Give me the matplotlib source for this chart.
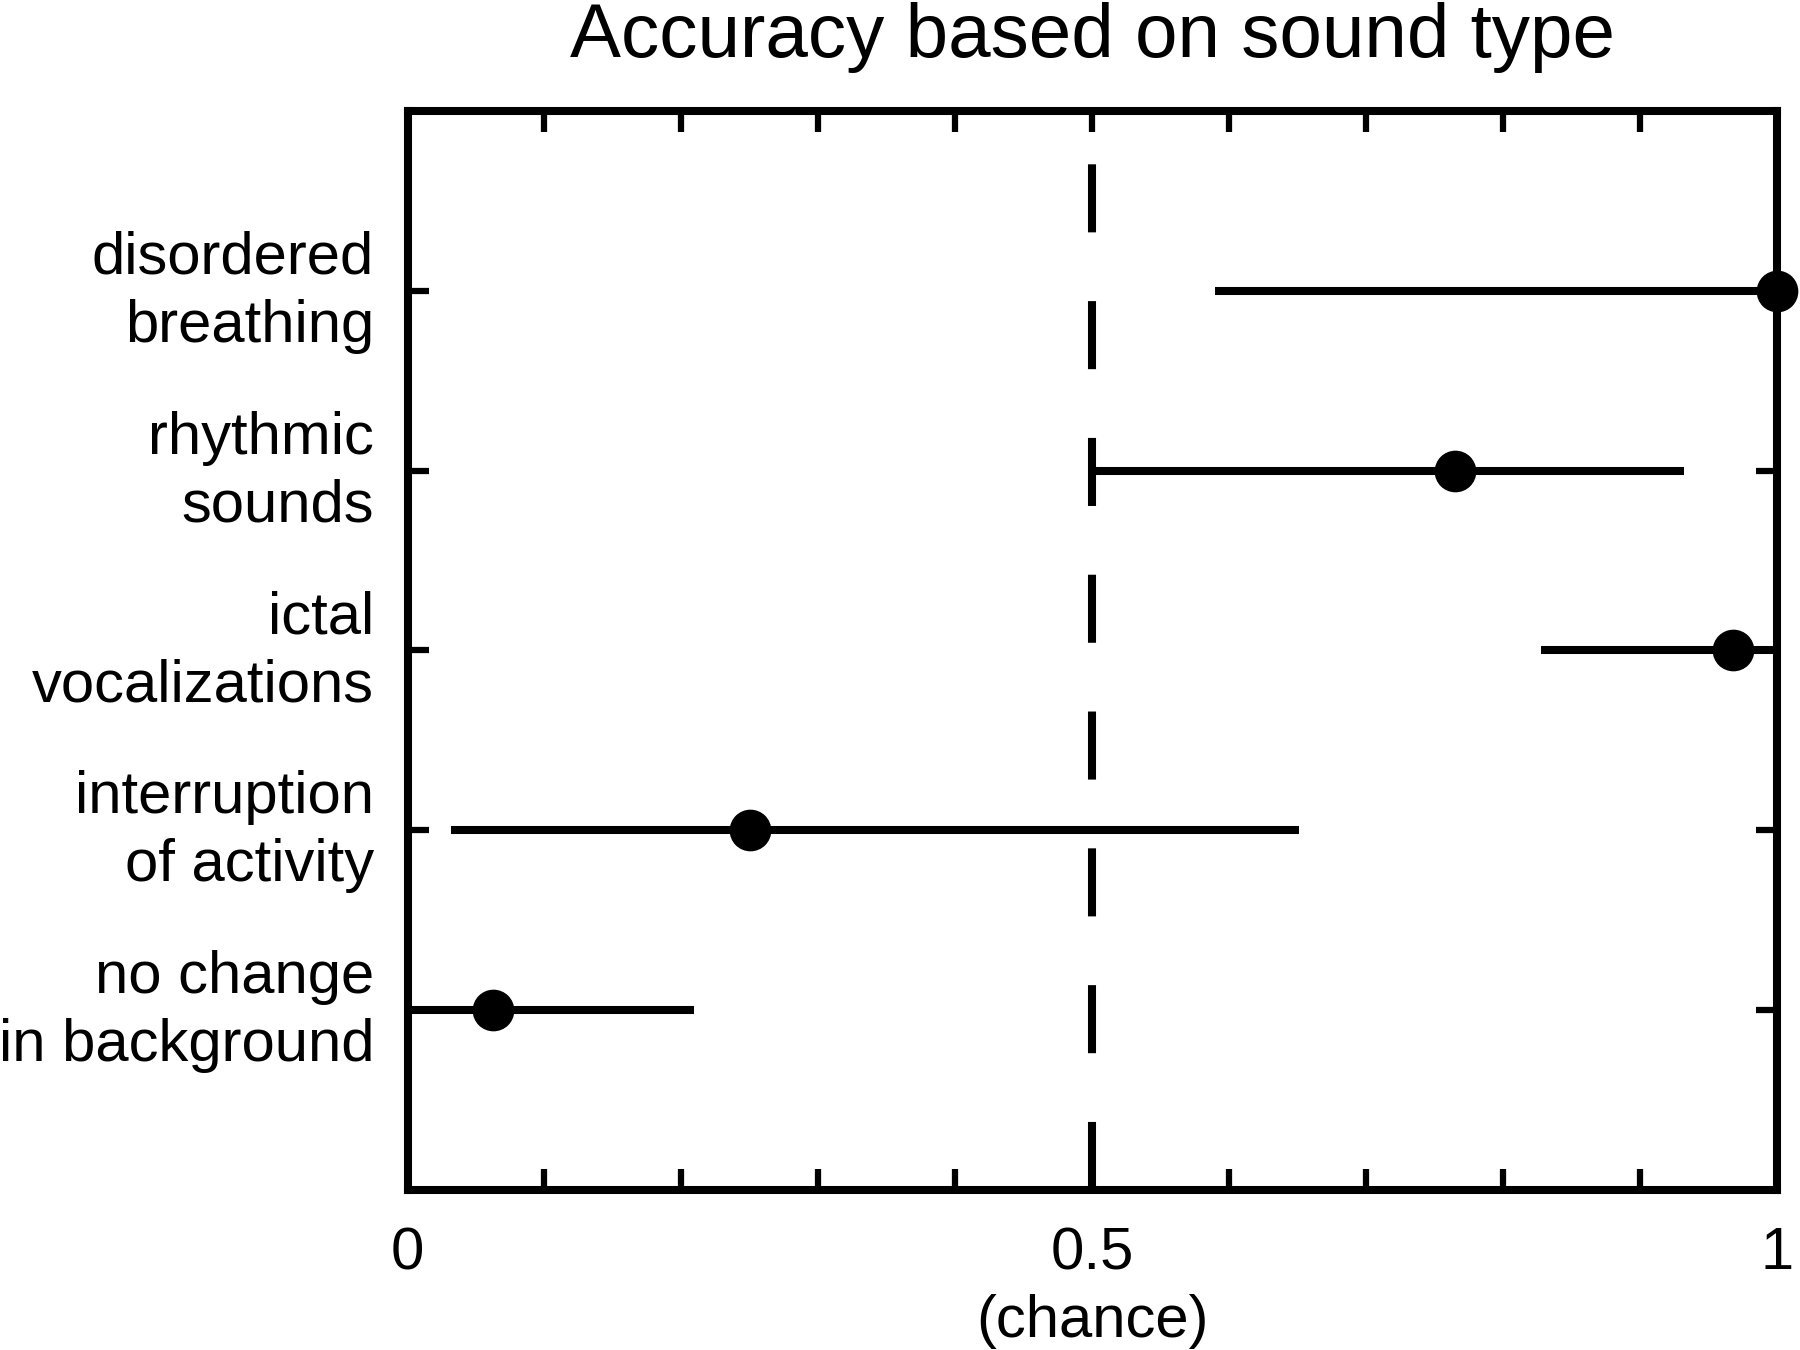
import matplotlib
matplotlib.use("Agg")
import matplotlib.pyplot as plt
import matplotlib.transforms as mtransforms

# sound types, top to bottom
SOUND_TYPES = ["disordered\nbreathing", "rhythmic\nsounds", "ictal\nvocalizations",
               "interruption\nof activity", "no change\nin background"]
ACCURACY = [1.0, 0.765, 0.968, 0.25, 0.0625]
CI_LOW = [0.59, 0.503, 0.828, 0.032, 0.0]
CI_HIGH = [1.0, 0.932, 1.0, 0.651, 0.209]

X_TICKS = [0, 0.1, 0.2, 0.3, 0.4, 0.5, 0.6, 0.7, 0.8, 0.9, 1.0]
X_TICK_LABELS = ["0", "", "", "", "", "0.5\n(chance)", "", "", "", "", "1"]

plt.rcParams['font.family'] = ['Liberation Sans', 'DejaVu Sans']

LW = 5.8

fig = plt.figure(figsize=(18, 13.5), dpi=100)
ax = fig.add_axes([0.2264, 0.1185, 0.7608, 0.7993])

# y positions: first category on top
n = len(SOUND_TYPES)
y_pos = [n - i for i in range(n)]

# chance line
ax.axvline(0.5, color='black', lw=LW, ls=(0, (49 / LW, 49.5 / LW)), zorder=1)

# confidence intervals + points
xerr = [[a - lo for a, lo in zip(ACCURACY, CI_LOW)],
        [hi - a for a, hi in zip(ACCURACY, CI_HIGH)]]
ax.errorbar(ACCURACY, y_pos, xerr=xerr, fmt='o', color='black', ecolor='black',
            elinewidth=LW, capsize=0, markersize=29, clip_on=False, zorder=3)

ax.set_xlim(0, 1)
ax.set_ylim(0, n + 1)

ax.set_xticks(X_TICKS)
ax.set_xticklabels(X_TICK_LABELS, linespacing=1.3)
ax.set_yticks(y_pos)
ax.set_yticklabels(SOUND_TYPES, linespacing=1.3)

ax.tick_params(axis='both', direction='in', length=15, width=4.5,
               top=True, right=True, labelsize=43, color='black')
ax.tick_params(axis='x', pad=26)
ax.tick_params(axis='y', pad=24)

# nudge the two-line category labels up a little
shift = mtransforms.ScaledTranslation(0, 0.11, fig.dpi_scale_trans)
for lbl in ax.get_yticklabels():
    lbl.set_transform(lbl.get_transform() + shift)

for spine in ax.spines.values():
    spine.set_linewidth(LW)

ax.set_title("Accuracy based on sound type", fontsize=55, pad=39)

fig.savefig("out.png", dpi=100)
